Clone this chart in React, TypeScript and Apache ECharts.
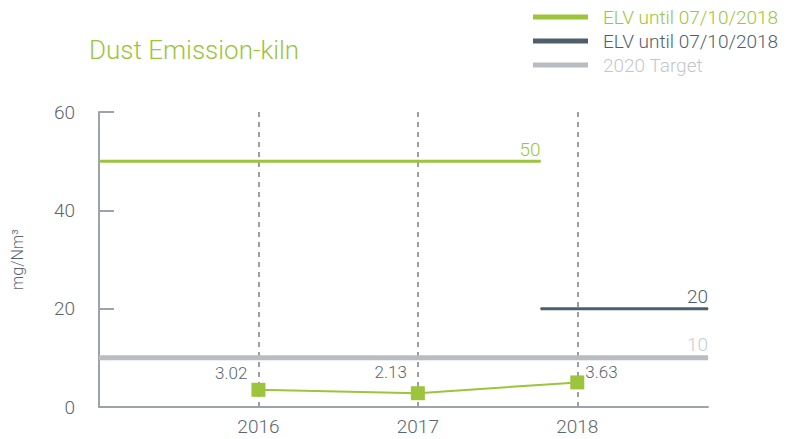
import React, { useEffect, useRef } from "react";
import * as echarts from "echarts";

const years = [2016, 2017, 2018];
const dustValues = [3.5, 2.8, 5.0];
const dustLabels = ["3.02", "2.13", "3.63"];
const elvOldValue = 50;
const elvNewValue = 20;
const targetValue = 10;
const xStart = 2015;
const xEnd = 2018.82;
const elvChange = 2017.77;
const legendNames = ["ELV until 07/10/2018", "ELV until 07/10/2018 ", "2020 Target"];

const GREEN = "#9cc43c";
const DARK = "#4e5f6b";
const GRAY = "#b9bdc2";
const AXIS = "#9ea3a9";
const TEXT = "#5b6670";
const FONT = "Roboto, 'Liberation Sans', sans-serif";

function endLabel(text: string, color: string, distance: number) {
  return {
    show: true,
    position: "top",
    align: "right",
    distance,
    formatter: text,
    color,
    fontSize: 19,
    fontWeight: 300,
  };
}

export default function App() {
  const ref = useRef<HTMLDivElement>(null);
  useEffect(() => {
    if (!ref.current) return;
    const chart = echarts.init(ref.current, undefined, { renderer: "svg" });
    const labelOffsets = [
      { position: "left", distance: 4, offset: [0, -17] },
      { position: "left", distance: 4, offset: [0, -21] },
      { position: "right", distance: 1, offset: [0, -10] },
    ];
    const refLine = (name: string, color: string, width: number, a: number[], b: number[], label: any) => ({
      name,
      type: "line",
      color,
      symbol: "circle",
      symbolSize: 1,
      showSymbol: true,
      itemStyle: { color },
      lineStyle: { color, width },
      data: [a, { value: b, label }],
      z: 3,
    });
    chart.setOption({
      animation: false,
      textStyle: { fontFamily: FONT },
      title: {
        text: "Dust Emission-kiln",
        left: 89,
        top: 37,
        padding: 0,
        textStyle: { color: GREEN, fontSize: 26, fontWeight: 300, fontFamily: FONT },
      },
      legend: {
        orient: "vertical",
        left: 533,
        top: 7,
        padding: 0,
        itemWidth: 55,
        itemHeight: 5,
        itemGap: 4,
        icon: "rect",
        selectedMode: false,
        textStyle: { fontSize: 19, fontWeight: 300, padding: [0, 0, 0, 10], lineHeight: 20 },
        data: [
          { name: legendNames[0], textStyle: { color: GREEN } },
          { name: legendNames[1], textStyle: { color: DARK } },
          { name: legendNames[2], textStyle: { color: "#c3c7cb" } },
        ],
      },
      grid: { left: 99, right: 81, top: 112, bottom: 32 },
      xAxis: {
        type: "value",
        min: xStart,
        max: xEnd,
        interval: 1,
        axisLine: { show: true, lineStyle: { color: AXIS, width: 2 } },
        axisTick: { show: false },
        axisLabel: {
          color: TEXT,
          fontSize: 19,
          fontWeight: 300,
          margin: 10,
          showMinLabel: false,
          showMaxLabel: false,
          formatter: (v: number) => (years.includes(v) ? String(v) : ""),
        },
        splitLine: { show: false },
      },
      yAxis: {
        type: "value",
        min: 0,
        max: 60,
        interval: 20,
        name: "mg/Nm³",
        nameLocation: "middle",
        nameRotate: 90,
        nameGap: 74,
        nameTextStyle: { color: TEXT, fontSize: 16, fontWeight: 300 },
        axisLine: { show: true, lineStyle: { color: AXIS, width: 2 } },
        axisTick: { show: true, inside: true, length: 15, lineStyle: { color: AXIS, width: 2 } },
        axisLabel: { color: TEXT, fontSize: 19, fontWeight: 300, margin: 24 },
        splitLine: { show: false },
      },
      series: [
        refLine(legendNames[0], GREEN, 3, [xStart, elvOldValue], [elvChange, elvOldValue], endLabel(String(elvOldValue), GREEN, 2)),
        refLine(legendNames[1], DARK, 3, [elvChange, elvNewValue], [xEnd, elvNewValue], endLabel(String(elvNewValue), DARK, 2)),
        refLine(legendNames[2], GRAY, 5, [xStart, targetValue], [xEnd, targetValue], endLabel(String(targetValue), "#c8cbce", 3)),
        {
          name: "Dust",
          type: "line",
          color: GREEN,
          symbol: "rect",
          symbolSize: 14,
          itemStyle: { color: GREEN },
          lineStyle: { color: GREEN, width: 2 },
          data: years.map((y, i) => ({
            value: [y, dustValues[i]],
            label: {
              show: true,
              formatter: dustLabels[i],
              color: TEXT,
              fontSize: 17,
              fontWeight: 300,
              ...labelOffsets[i],
            },
          })),
          markLine: {
            silent: true,
            symbol: "none",
            label: { show: false },
            lineStyle: { color: "#9a9ea6", width: 2, type: [5, 5] },
            data: years.map((y) => ({ xAxis: y })),
            z: 1,
          },
          z: 4,
        },
      ],
    });
    return () => chart.dispose();
  }, []);
  return (
    <div
      ref={ref}
      style={{ position: "absolute", left: 0, top: 0, width: 789, height: 439, background: "#fff" }}
    />
  );
}
